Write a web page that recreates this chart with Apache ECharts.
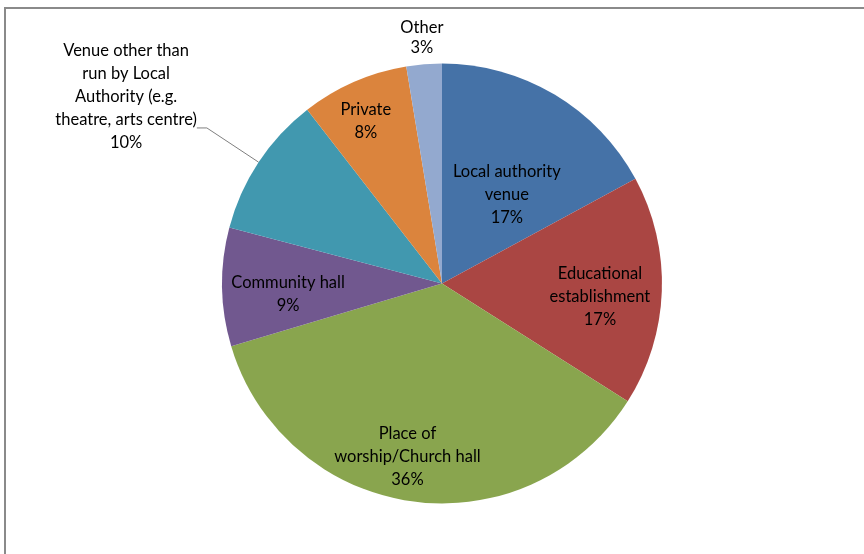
<!DOCTYPE html>
<html>
<head>
<meta charset="utf-8">
<title>Venue types</title>
<style>
  html, body { margin: 0; padding: 0; background: #ffffff; overflow: hidden; }
  #wrap { position: relative; width: 864px; height: 554px; overflow: hidden; background: #ffffff; }
  #frame { position: absolute; left: 4px; top: 7px; width: 920px; height: 620px;
           border: 2px solid #8a8a8a; box-sizing: border-box; }
  #chart { position: absolute; left: 0; top: 0; width: 864px; height: 554px; }
</style>
<script src="https://cdn.jsdelivr.net/npm/echarts@6/dist/echarts.min.js"></script>
</head>
<body>
<div id="wrap"><div id="frame"></div><div id="chart"></div></div>
<script>
// Venue categories, clockwise from twelve o'clock
const categories = [
  'Local authority\nvenue',
  'Educational\nestablishment',
  'Place of\nworship/Church hall',
  'Community hall',
  'Venue other than\nrun by Local\nAuthority (e.g.\ntheatre, arts centre)',
  'Private',
  'Other'
];

// Share of venues (%)
const shares = [17.1, 16.9, 36.4, 8.7, 10.4, 7.9, 2.6];

// Slice fills
const sliceColors = ['#4572a7', '#aa4643', '#89a54e', '#71588f', '#4198af', '#db843d', '#93a9cf'];

// Label placement per slice: 'inside', 'outsideLine' (with leader line) or 'outsideFree'
const labelModes = ['inside', 'inside', 'inside', 'inside', 'outsideLine', 'inside', 'outsideFree'];

// Fine nudges (px) applied to each label after the pie has placed it
const labelNudges = [[7, 8], [45, 9], [-19, 61], [-41, 9], [3, -31], [-31, -59], [0, 0]];

const chart = echarts.init(document.getElementById('chart'), null, { renderer: 'canvas' });

const seriesData = categories.map(function (name, i) {
  const item = { name: name, value: shares[i], itemStyle: { color: sliceColors[i] } };
  const mode = labelModes[i];
  if (mode === 'inside') {
    item.label = { position: 'inside' };
    item.labelLine = { show: false };
  } else if (mode === 'outsideLine') {
    item.label = { position: 'outside', distanceToLabelLine: 3 };
    item.labelLine = { show: true, length: 62, length2: 10 };
  } else {
    item.label = { position: 'outside', distanceToLabelLine: 0, lineHeight: 20 };
    item.labelLine = { show: false, length: 27, length2: 0 };
  }
  return item;
});

chart.setOption({
  backgroundColor: 'transparent',
  animation: false,
  series: [{
    type: 'pie',
    center: ['51.16%', '51.17%'],
    radius: '79.4%',
    startAngle: 90,
    clockwise: true,
    avoidLabelOverlap: false,
    percentPrecision: 0,
    data: seriesData,
    label: {
      show: true,
      formatter: '{b}\n{d}%',
      fontFamily: 'Lato, "Liberation Sans", sans-serif',
      fontSize: 16.5,
      lineHeight: 23,
      color: '#000000',
      align: 'center'
    },
    labelLine: {
      smooth: false,
      lineStyle: { color: '#7f7f7f', width: 1 }
    },
    emphasis: { disabled: true },
    labelLayout: function (p) {
      const r = p.labelRect;
      const i = p.dataIndex;
      const n = labelNudges[i];
      const mode = labelModes[i];
      // outside labels sit to the left of their anchor; free ones are centred on it
      const cx = mode === 'outsideFree' ? r.x + r.width : r.x + r.width / 2;
      const res = {
        x: cx + n[0],
        y: r.y + r.height / 2 + n[1],
        align: 'center',
        verticalAlign: 'middle'
      };
      if (mode === 'outsideLine' && p.labelLinePoints) {
        res.labelLinePoints = p.labelLinePoints;
      }
      return res;
    }
  }]
});
</script>
</body>
</html>
